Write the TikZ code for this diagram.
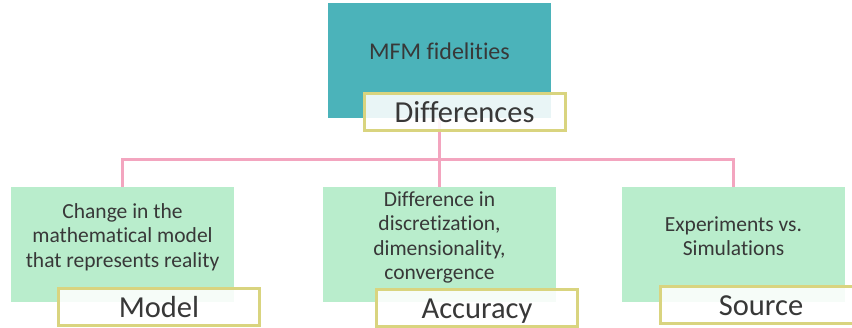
\documentclass[tikz,border=0pt]{standalone}
\usepackage{fontspec}
\setmainfont[Ligatures=NoCommon]{Carlito}
\definecolor{teal1}{HTML}{4BB3BA}
\definecolor{green1}{HTML}{B9EDCC}
\definecolor{pink1}{HTML}{F3A5BF}
\definecolor{olive1}{HTML}{D9D47F}
\definecolor{txt}{HTML}{383838}
\tikzset{
  topbox/.style={fill=teal1, draw=none, minimum width=223pt, minimum height=115pt, inner sep=0pt},
  greenbox/.style={fill=green1, draw=none, minimum width=223pt, minimum height=115pt, inner sep=0pt},
  gtext/.style={text=txt, align=center, inner sep=0pt, font=\fontsize{21.5}{24.5}\selectfont},
  labelbox/.style={draw=olive1, line width=3pt, fill=white, fill opacity=0.88, text opacity=1, text=txt,
    minimum width=201pt, minimum height=37pt, inner sep=0pt, text height=19.8pt, text depth=0pt,
    font=\fontsize{30.5}{34}\selectfont},
  conn/.style={draw=pink1, line width=3pt}
}
\begin{document}
\begin{tikzpicture}[x=1pt,y=-1pt]
\useasboundingbox (0,0) rectangle (852,328);
% top box
\node[topbox] (top) at (439.5,60.5) {};
\node[text=txt, inner sep=0pt, text height=15.5pt, text depth=0pt, font=\fontsize{24}{28}\selectfont] (toptext) at (439.5,52) {MFM fidelities};
% connectors
\coordinate (bus) at (439.5,160);
\node[greenbox] (g1) at (122.5,244.5) {};
\node[greenbox, minimum width=233pt] (g2) at (439.5,244.5) {};
\node[greenbox] (g3) at (733.5,244.5) {};
\draw[conn] (top.south) -- (bus);
\draw[conn] (g1.north) |- (bus) -| (g3.north);
\draw[conn] (g2.north) -- (bus);
% texts
\node[gtext] (t1) at (122.5,237) {Change in the\\mathematical model\\that represents reality};
\node[gtext] (t2) at (439.5,237.5) {Difference in\\discretization,\\dimensionality,\\convergence};
\node[gtext] (t3) at (733.5,236) {Experiments vs.\\Simulations};
% label boxes
\node[labelbox] (diff) at (464.5,112.5) {Differences};
\node[labelbox] (l1) at (159,307.5) {Model};
\node[labelbox] (l2) at (477,308.5) {Accuracy};
\node[labelbox] (l3) at (761,305.5) {Source};
\end{tikzpicture}
\end{document}
